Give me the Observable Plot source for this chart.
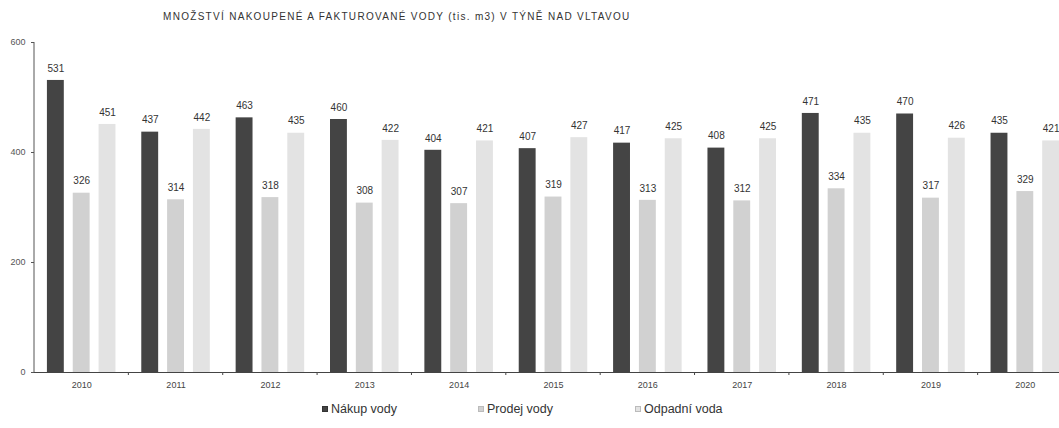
<!DOCTYPE html>
<html><head><meta charset="utf-8">
<script src="https://cdn.jsdelivr.net/npm/d3@7"></script>
<script src="https://cdn.jsdelivr.net/npm/@observablehq/plot@0.6"></script>
<style>
html,body{margin:0;padding:0;background:#fff;overflow:hidden;width:1059px;height:428px}
#title{position:relative;height:30px;font:10px "Liberation Sans",Arial,sans-serif;color:#333;letter-spacing:1.3px}
#title span{position:absolute;left:163px;top:11px;white-space:nowrap}
#chart{height:366px;width:1072px;overflow:visible}
#legend{position:relative;height:32px;font:12.5px "Liberation Sans",Arial,sans-serif;color:#333}
.item{position:absolute;top:6px;white-space:nowrap;line-height:14px}
.sw{display:inline-block;width:6px;height:6px;margin-right:3px;vertical-align:middle;position:relative;top:-1px;box-sizing:border-box}
</style></head><body>
<div id="title"><span>MNOŽSTVÍ NAKOUPENÉ A FAKTUROVANÉ VODY (tis. m3) V TÝNĚ NAD VLTAVOU</span></div>
<div id="chart"></div>
<div id="legend"></div>
<script>
const years = ["2010","2011","2012","2013","2014","2015","2016","2017","2018","2019","2020"];
const seriesNames = ["Nákup vody","Prodej vody","Odpadní voda"];
const nakup  = [531,437,463,460,404,407,417,408,471,470,435];
const prodej = [326,314,318,308,307,319,313,312,334,317,329];
const odpad  = [451,442,435,422,421,427,425,425,435,426,421];
const colors = ["#444444","#d1d1d1","#e3e3e3"];
const yTicks = [0,200,400,600];

const seriesValues = [nakup, prodej, odpad];
const data = years.flatMap((year, i) =>
  seriesNames.map((s, k) => ({year, series: s, value: seriesValues[k][i]})));

const plot = Plot.plot({
  width: 1072, height: 366,
  marginLeft: 34, marginRight: 0, marginTop: 12, marginBottom: 24,
  style: {fontFamily: "'Liberation Sans', Arial, sans-serif", background: "transparent", overflow: "visible", maxWidth: "none"},
  fx: {domain: years, padding: 0, round: false, label: null},
  x: {domain: seriesNames, paddingInner: 0.346, paddingOuter: 0.5, round: false, axis: null},
  y: {domain: [0, 600], axis: null},
  color: {domain: seriesNames, range: colors},
  marks: [
    Plot.barY(data, {fx: "year", x: "series", y: "value", fill: "series"}),
    Plot.text(data, {fx: "year", x: "series", y: "value", text: d => String(d.value), dy: -12, fontSize: 10, fill: "#333"}),
    Plot.ruleY([0], {stroke: "#444", strokeWidth: 1.2}),
    Plot.axisFx({anchor: "bottom", tickSize: 0, tickPadding: 9, fontSize: 9, fill: "#444", label: null}),
    Plot.axisY({ticks: yTicks, tickSize: 3, tickPadding: 6, fontSize: 9, fill: "#555", stroke: "#555", label: null})
  ]
});
document.getElementById("chart").appendChild(plot);

// axis lines and group separator ticks derived from the scales
const svg = d3.select(plot);
const fxs = plot.scale("fx"), ys = plot.scale("y");
const x0 = fxs.apply(years[0]);
svg.append("line").attr("x1", x0).attr("x2", x0)
  .attr("y1", ys.apply(0)).attr("y2", ys.apply(600)).attr("stroke", "#555");
years.forEach(yr => {
  const xb = fxs.apply(yr) + fxs.bandwidth;
  svg.append("line").attr("x1", xb).attr("x2", xb)
    .attr("y1", ys.apply(0)).attr("y2", ys.apply(0) + 3).attr("stroke", "#444");
});

// legend
const legendLeft = [322, 478, 635];
const legend = document.getElementById("legend");
seriesNames.forEach((s, k) => {
  const it = document.createElement("div");
  it.className = "item";
  it.style.left = legendLeft[k] + "px";
  it.innerHTML = `<span class="sw" style="background:${colors[k]};border:1px solid ${k ? "#bbb" : "#333"}"></span>${s}`;
  legend.appendChild(it);
});
</script>
</body></html>
